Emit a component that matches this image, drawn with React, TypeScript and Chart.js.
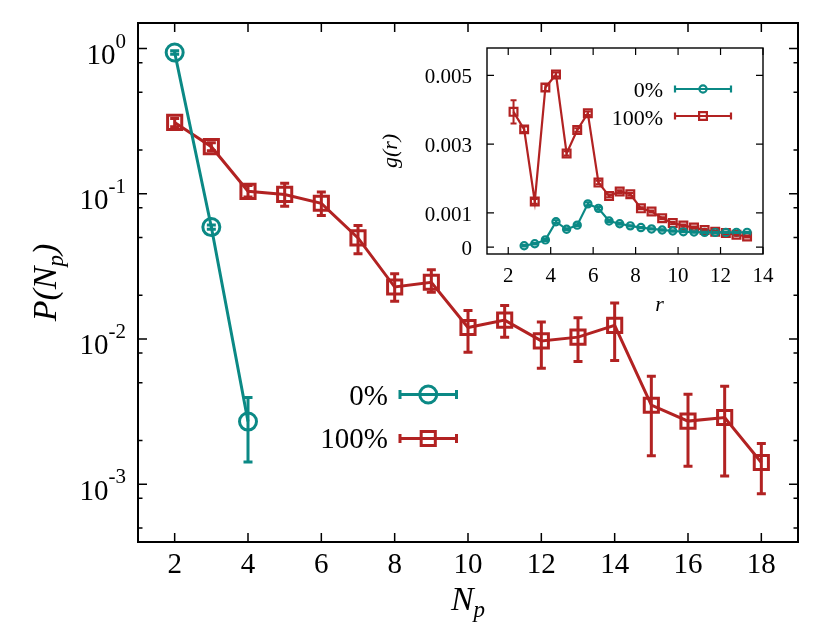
import React, { useEffect, useRef } from "react";
import { Chart, registerables } from "chart.js";

Chart.register(...registerables);

const TEAL = "#0b8985";
const RED = "#b22222";
const SERIF = '"Liberation Serif", "DejaVu Serif", "Times New Roman", serif';

// ---------- main plot data ----------
const npTeal = [2, 3, 4];
const pTeal = [0.94, 0.059, 0.0027];
const pTealLo = [0.915, 0.057, 0.00142];
const pTealHi = [0.965, 0.061, 0.00396];

const npRed = [2, 3, 4, 5, 6, 7, 8, 9, 10, 11, 12, 13, 14, 15, 16, 17, 18];
const pRed = [0.31, 0.211, 0.104, 0.099, 0.086, 0.0497, 0.0228, 0.0246, 0.012, 0.0135, 0.0097, 0.0103, 0.0124, 0.0035, 0.00272, 0.00288, 0.00141];
const pRedLo = [0.29, 0.198, 0.095, 0.082, 0.071, 0.0386, 0.0182, 0.021, 0.0081, 0.0103, 0.0063, 0.007, 0.0071, 0.00157, 0.00133, 0.00114, 0.00086];
const pRedHi = [0.33, 0.225, 0.114, 0.118, 0.103, 0.0604, 0.0281, 0.03, 0.0157, 0.017, 0.0131, 0.014, 0.0177, 0.00554, 0.00417, 0.00473, 0.00191];

const xTicksMain = [2, 4, 6, 8, 10, 12, 14, 16, 18];
const yDecades = [1, 0.1, 0.01, 0.001];
const yDecadeExps = ["0", "-1", "-2", "-3"];
const yMinorFactors = [2, 5, 8];
const yMinorDecades = [1, 0.1, 0.01, 0.001, 0.0001];

// ---------- inset data ----------
const rTeal = [2.75, 3.25, 3.75, 4.25, 4.75, 5.25, 5.75, 6.25, 6.75, 7.25, 7.75, 8.25, 8.75, 9.25, 9.75, 10.25, 10.75, 11.25, 11.75, 12.25, 12.75, 13.25];
const gTeal = [0.00004, 0.0001, 0.00021, 0.00074, 0.00052, 0.00064, 0.00126, 0.00113, 0.00076, 0.00068, 0.00062, 0.00057, 0.00053, 0.0005, 0.00047, 0.00045, 0.00044, 0.00043, 0.00043, 0.00043, 0.00043, 0.00043];
const gTealErr = [0.00002, 0.00002, 0.00003, 0.00004, 0.00003, 0.00003, 0.00005, 0.00004, 0.00003, 0.00003, 0.00002, 0.00002, 0.00002, 0.00002, 0.00002, 0.00002, 0.00002, 0.00002, 0.00002, 0.00002, 0.00002, 0.00002];

const rRed = [2.25, 2.75, 3.25, 3.75, 4.25, 4.75, 5.25, 5.75, 6.25, 6.75, 7.25, 7.75, 8.25, 8.75, 9.25, 9.75, 10.25, 10.75, 11.25, 11.75, 12.25, 12.75, 13.25];
const gRed = [0.00394, 0.00343, 0.00133, 0.00465, 0.00503, 0.00273, 0.00341, 0.0039, 0.00188, 0.00149, 0.00162, 0.00154, 0.00113, 0.00104, 0.00084, 0.0007, 0.00063, 0.00057, 0.0005, 0.00045, 0.00041, 0.00036, 0.00031];
const gRedErr = [0.00034, 0.00008, 0.00007, 0.0001, 0.00006, 0.00006, 0.00005, 0.00005, 0.00005, 0.00004, 0.00004, 0.00004, 0.00003, 0.00003, 0.00003, 0.00003, 0.00003, 0.00003, 0.00003, 0.00003, 0.00003, 0.00003, 0.00003];

const xTicksInset = [2, 4, 6, 8, 10, 12, 14];
const yTicksInset = [0, 0.001, 0.003, 0.005];
const yTickLabelsInset = ["0", "0.001", "0.003", "0.005"];

const legendLabels = ["0%", "100%"];

type Part = { text: string; font: string; dy?: number };

function drawParts(ctx: CanvasRenderingContext2D, x: number, y: number, parts: Part[], align: "left" | "center" | "right") {
  ctx.textAlign = "left";
  ctx.textBaseline = "alphabetic";
  let w = 0;
  for (const p of parts) {
    ctx.font = p.font;
    w += ctx.measureText(p.text).width;
  }
  let cx = align === "right" ? x - w : align === "center" ? x - w / 2 : x;
  for (const p of parts) {
    ctx.font = p.font;
    ctx.fillText(p.text, cx, y + (p.dy || 0));
    cx += ctx.measureText(p.text).width;
  }
}

function drawErrorBars(chart: any, xs: number[], lo: number[], hi: number[], color: string, lw: number, cap: number) {
  const ctx = chart.ctx as CanvasRenderingContext2D;
  const xs_ = chart.scales.x;
  const ys_ = chart.scales.y;
  ctx.save();
  ctx.strokeStyle = color;
  ctx.lineWidth = lw;
  ctx.lineCap = "butt";
  for (let i = 0; i < xs.length; i++) {
    const px = xs_.getPixelForValue(xs[i]);
    const p1 = ys_.getPixelForValue(lo[i]);
    const p2 = ys_.getPixelForValue(hi[i]);
    ctx.beginPath();
    ctx.moveTo(px, p1);
    ctx.lineTo(px, p2);
    ctx.moveTo(px - cap, p1);
    ctx.lineTo(px + cap, p1);
    ctx.moveTo(px - cap, p2);
    ctx.lineTo(px + cap, p2);
    ctx.stroke();
  }
  ctx.restore();
}

function drawLegendSample(ctx: CanvasRenderingContext2D, x1: number, x2: number, y: number, color: string, lw: number, capH: number, shape: "circle" | "rect", size: number) {
  ctx.save();
  ctx.strokeStyle = color;
  ctx.lineWidth = lw;
  ctx.beginPath();
  ctx.moveTo(x1, y);
  ctx.lineTo(x2, y);
  ctx.moveTo(x1, y - capH);
  ctx.lineTo(x1, y + capH);
  ctx.moveTo(x2, y - capH);
  ctx.lineTo(x2, y + capH);
  ctx.stroke();
  const mx = (x1 + x2) / 2;
  ctx.beginPath();
  if (shape === "circle") {
    ctx.arc(mx, y, size, 0, Math.PI * 2);
  } else {
    const s = size * Math.SQRT1_2;
    ctx.rect(mx - s, y - s, 2 * s, 2 * s);
  }
  ctx.stroke();
  ctx.restore();
}

const mainPlugin = {
  id: "mainDecor",
  afterDatasetsDraw(chart: any) {
    drawErrorBars(chart, npRed, pRedLo, pRedHi, RED, 3, 4.5);
    drawErrorBars(chart, npTeal, pTealLo, pTealHi, TEAL, 3, 4.5);
  },
  afterDraw(chart: any) {
    const ctx = chart.ctx as CanvasRenderingContext2D;
    const { left, right, top, bottom } = chart.chartArea;
    const xs = chart.scales.x;
    const ys = chart.scales.y;
    ctx.save();
    ctx.strokeStyle = "#000";
    ctx.fillStyle = "#000";
    ctx.lineWidth = 1.5;
    ctx.beginPath();
    for (const v of xTicksMain) {
      const px = xs.getPixelForValue(v);
      ctx.moveTo(px, bottom);
      ctx.lineTo(px, bottom - 9);
      ctx.moveTo(px, top);
      ctx.lineTo(px, top + 9);
    }
    for (const v of yDecades) {
      const py = ys.getPixelForValue(v);
      ctx.moveTo(left, py);
      ctx.lineTo(left + 9, py);
      ctx.moveTo(right, py);
      ctx.lineTo(right - 9, py);
    }
    for (const d of yMinorDecades) {
      for (const f of yMinorFactors) {
        const v = d * f;
        if (v < ys.min || v > ys.max) continue;
        const py = ys.getPixelForValue(v);
        ctx.moveTo(left, py);
        ctx.lineTo(left + 4.5, py);
        ctx.moveTo(right, py);
        ctx.lineTo(right - 4.5, py);
      }
    }
    ctx.stroke();
    ctx.lineWidth = 2;
    ctx.strokeRect(left, top, right - left, bottom - top);

    const tickFont = `29px ${SERIF}`;
    for (const v of xTicksMain) {
      drawParts(ctx, xs.getPixelForValue(v), bottom + 31, [{ text: String(v), font: tickFont }], "center");
    }
    yDecades.forEach((v, i) => {
      const py = ys.getPixelForValue(v);
      drawParts(ctx, left - 12, py + 15.5, [
        { text: "10", font: tickFont },
        { text: yDecadeExps[i], font: `21px ${SERIF}`, dy: -16.5 },
      ], "right");
    });
    drawParts(ctx, (left + right) / 2, 610, [
      { text: "N", font: `italic 34px ${SERIF}` },
      { text: "p", font: `italic 23px ${SERIF}`, dy: 7 },
    ], "center");
    ctx.save();
    ctx.translate(56, (top + bottom) / 2);
    ctx.rotate(-Math.PI / 2);
    drawParts(ctx, 0, 0, [
      { text: "P(N", font: `italic 34px ${SERIF}` },
      { text: "p", font: `italic 23px ${SERIF}`, dy: 7 },
      { text: ")", font: `italic 34px ${SERIF}` },
    ], "center");
    ctx.restore();

    drawParts(ctx, 388, 405, [{ text: legendLabels[0], font: tickFont }], "right");
    drawParts(ctx, 388, 448, [{ text: legendLabels[1], font: tickFont }], "right");
    drawLegendSample(ctx, 400, 456.5, 394.5, TEAL, 3, 4.5, "circle", 8.5);
    drawLegendSample(ctx, 400, 456.5, 438.5, RED, 3, 4.5, "rect", 10);
    ctx.restore();
  },
};

const insetPlugin = {
  id: "insetDecor",
  afterDatasetsDraw(chart: any) {
    drawErrorBars(chart, rRed, gRed.map((v, i) => v - gRedErr[i]), gRed.map((v, i) => v + gRedErr[i]), RED, 2, 3);
    drawErrorBars(chart, rTeal, gTeal.map((v, i) => v - gTealErr[i]), gTeal.map((v, i) => v + gTealErr[i]), TEAL, 2, 3);
  },
  afterDraw(chart: any) {
    const ctx = chart.ctx as CanvasRenderingContext2D;
    const { left, right, top, bottom } = chart.chartArea;
    const xs = chart.scales.x;
    const ys = chart.scales.y;
    ctx.save();
    ctx.strokeStyle = "#000";
    ctx.fillStyle = "#000";
    ctx.lineWidth = 1.2;
    ctx.beginPath();
    for (const v of xTicksInset) {
      const px = xs.getPixelForValue(v);
      ctx.moveTo(px, bottom);
      ctx.lineTo(px, bottom - 7);
      ctx.moveTo(px, top);
      ctx.lineTo(px, top + 7);
    }
    for (const v of yTicksInset) {
      const py = ys.getPixelForValue(v);
      ctx.moveTo(left, py);
      ctx.lineTo(left + 7, py);
      ctx.moveTo(right, py);
      ctx.lineTo(right - 7, py);
    }
    ctx.stroke();
    ctx.lineWidth = 1.4;
    ctx.strokeRect(left, top, right - left, bottom - top);

    const f = `21px ${SERIF}`;
    for (const v of xTicksInset) {
      drawParts(ctx, xs.getPixelForValue(v), bottom + 27.5, [{ text: String(v), font: f }], "center");
    }
    yTicksInset.forEach((v, i) => {
      drawParts(ctx, left - 15, ys.getPixelForValue(v) + 8, [{ text: yTickLabelsInset[i], font: f }], "right");
    });
    drawParts(ctx, 299.5, 280.5, [{ text: "r", font: `italic 22px ${SERIF}` }], "center");
    ctx.save();
    ctx.translate(37, (top + bottom) / 2);
    ctx.rotate(-Math.PI / 2);
    drawParts(ctx, 0, 0, [{ text: "g(r)", font: `italic 22px ${SERIF}` }], "center");
    ctx.restore();

    drawParts(ctx, 303, 67, [{ text: legendLabels[0], font: `22px ${SERIF}` }], "right");
    drawParts(ctx, 303, 95, [{ text: legendLabels[1], font: `22px ${SERIF}` }], "right");
    drawLegendSample(ctx, 315, 371, 59, TEAL, 2.2, 3.5, "circle", 3.6);
    drawLegendSample(ctx, 315, 371, 86, RED, 2.2, 3.5, "rect", 5.5);
    ctx.restore();
  },
};

function hiddenScale(extra: any) {
  return {
    display: true,
    grid: { display: false, drawTicks: false },
    border: { display: false },
    ticks: { display: false },
    ...extra,
  };
}

export default function App() {
  const mainRef = useRef<HTMLCanvasElement>(null);
  const insetRef = useRef<HTMLCanvasElement>(null);

  useEffect(() => {
    document.body.style.margin = "0";
    const main = new Chart(mainRef.current!, {
      type: "line",
      data: {
        datasets: [
          {
            label: legendLabels[0],
            data: npTeal.map((x, i) => ({ x, y: pTeal[i] })),
            borderColor: TEAL,
            borderWidth: 3,
            pointStyle: "circle",
            pointRadius: 8.5,
            pointBorderWidth: 3,
            pointBorderColor: TEAL,
            pointBackgroundColor: "rgba(0,0,0,0)",
            fill: false,
            tension: 0,
          },
          {
            label: legendLabels[1],
            data: npRed.map((x, i) => ({ x, y: pRed[i] })),
            borderColor: RED,
            borderWidth: 3,
            pointStyle: "rect",
            pointRadius: 10,
            pointBorderWidth: 3,
            pointBorderColor: RED,
            pointBackgroundColor: "rgba(0,0,0,0)",
            fill: false,
            tension: 0,
          },
        ],
      },
      options: {
        animation: false,
        responsive: false,
        devicePixelRatio: 1,
        layout: { padding: { top: 23, right: 32, left: 0, bottom: 0 } },
        plugins: { legend: { display: false }, tooltip: { enabled: false } },
        scales: {
          x: hiddenScale({ type: "linear", min: 1, max: 19, afterFit: (s: any) => { s.height = 91; } }),
          y: hiddenScale({ type: "logarithmic", min: 0.0004, max: 1.5, afterFit: (s: any) => { s.width = 138; } }),
        },
      },
      plugins: [mainPlugin],
    } as any);

    const inset = new Chart(insetRef.current!, {
      type: "line",
      data: {
        datasets: [
          {
            label: legendLabels[0],
            data: rTeal.map((x, i) => ({ x, y: gTeal[i] })),
            borderColor: TEAL,
            borderWidth: 2.2,
            pointStyle: "circle",
            pointRadius: 3.6,
            pointBorderWidth: 2.2,
            pointBorderColor: TEAL,
            pointBackgroundColor: "rgba(0,0,0,0)",
            fill: false,
            tension: 0,
          },
          {
            label: legendLabels[1],
            data: rRed.map((x, i) => ({ x, y: gRed[i] })),
            borderColor: RED,
            borderWidth: 2.2,
            pointStyle: "rect",
            pointRadius: 5.5,
            pointBorderWidth: 2.2,
            pointBorderColor: RED,
            pointBackgroundColor: "rgba(0,0,0,0)",
            fill: false,
            tension: 0,
          },
        ],
      },
      options: {
        animation: false,
        responsive: false,
        devicePixelRatio: 1,
        layout: { padding: { top: 18, right: 17, left: 0, bottom: 0 } },
        plugins: { legend: { display: false }, tooltip: { enabled: false } },
        scales: {
          x: hiddenScale({ type: "linear", min: 1, max: 14, afterFit: (s: any) => { s.height = 66; } }),
          y: hiddenScale({ type: "linear", min: -0.0002, max: 0.0058, afterFit: (s: any) => { s.width = 127; } }),
        },
      },
      plugins: [insetPlugin],
    } as any);

    return () => {
      main.destroy();
      inset.destroy();
    };
  }, []);

  return (
    <div style={{ position: "relative", width: 830, height: 633, background: "#fff", overflow: "hidden" }}>
      <canvas ref={mainRef} width={830} height={633} style={{ position: "absolute", left: 0, top: 0, width: 830, height: 633 }} />
      <canvas ref={insetRef} width={420} height={290} style={{ position: "absolute", left: 360, top: 30, width: 420, height: 290 }} />
    </div>
  );
}
